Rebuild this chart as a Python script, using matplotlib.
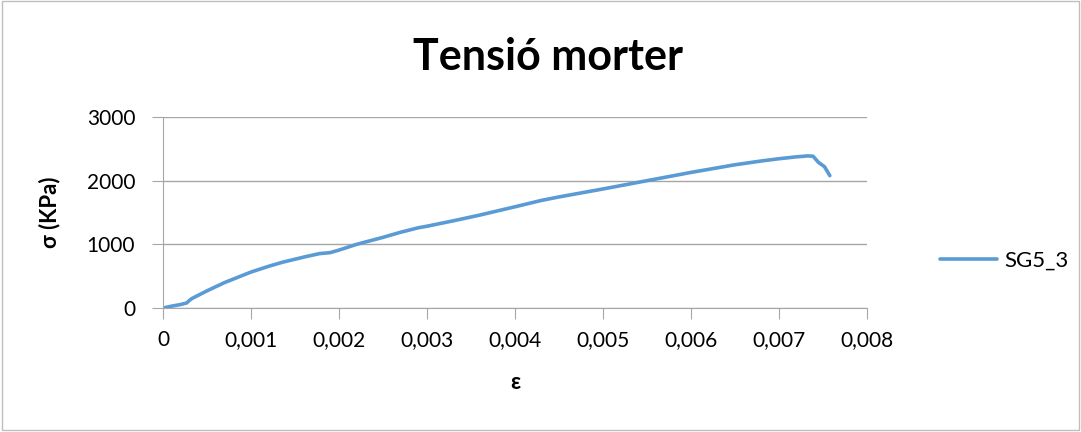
import matplotlib.pyplot as plt
from matplotlib.ticker import FuncFormatter, MultipleLocator

plt.rcParams['font.family'] = ['Lato', 'DejaVu Sans']

# strain (-) and stress (KPa)
strain = [0, 0.00010, 0.00020, 0.00027, 0.00030, 0.00033, 0.00050, 0.00070,
          0.00100, 0.00120, 0.00136, 0.00160, 0.00178, 0.00190, 0.00200,
          0.00220, 0.00250, 0.00270, 0.00290, 0.00300, 0.00330, 0.00360,
          0.00400, 0.00430, 0.00450, 0.00500, 0.00550, 0.00600, 0.00650,
          0.00680, 0.00700, 0.00720, 0.00733, 0.00739, 0.00745, 0.00752,
          0.00758]
stress = [0, 30, 55, 80, 120, 150, 270, 400, 565, 655, 720, 800, 855, 870,
          910, 1000, 1110, 1190, 1260, 1285, 1370, 1460, 1590, 1690, 1745,
          1870, 2000, 2130, 2250, 2310, 2345, 2375, 2390, 2385, 2290, 2220,
          2080]

fig = plt.figure(figsize=(10.81, 4.32), dpi=100)
fig.patches.append(plt.Rectangle((0.002, 0.004), 0.996, 0.993, transform=fig.transFigure,
                                 fill=False, edgecolor='#BFBFBF', linewidth=1))
ax = fig.add_axes([0.1508, 0.287, 0.651, 0.442])

ax.plot(strain, stress, color='#5B9BD5', linewidth=2.6, label='SG5_3',
        solid_capstyle='round')

ax.set_xlim(0, 0.008)
ax.set_ylim(0, 3000)
ax.xaxis.set_major_locator(MultipleLocator(0.001))
ax.yaxis.set_major_locator(MultipleLocator(1000))
ax.xaxis.set_major_formatter(FuncFormatter(
    lambda v, p: '0' if abs(v) < 1e-12 else ('%.3f' % v).replace('.', ',')))
ax.yaxis.grid(True, color='#A6A6A6', linewidth=1)
ax.set_axisbelow(True)
for s in ['top', 'right']:
    ax.spines[s].set_visible(False)
for s in ['left', 'bottom']:
    ax.spines[s].set_color('#A6A6A6')
ax.tick_params(axis='both', colors='#A6A6A6', labelcolor='black', labelsize=15,
               direction='out', length=8)
ax.tick_params(axis='x', pad=8)
ax.tick_params(axis='y', pad=12)

ax.set_xlabel('ε', fontsize=16, fontweight='bold', labelpad=16)
ax.set_ylabel('σ (KPa)', fontsize=16, fontweight='bold')
ax.yaxis.set_label_coords(-0.146, 0.5)
fig.text(0.507, 0.868, 'Tensió morter', fontsize=31, fontweight='bold',
         ha='center', va='center')

ax.legend(loc='center left', bbox_to_anchor=(1.075, 0.246), frameon=False,
          fontsize=16, handlelength=2.6, handletextpad=0.3)

fig.savefig('out.png', dpi=100)
